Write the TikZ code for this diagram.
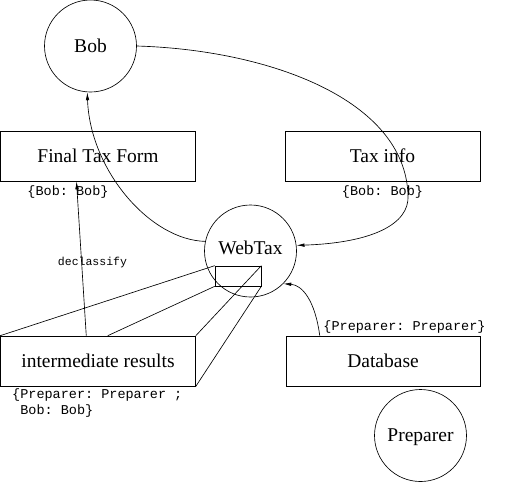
\documentclass[tikz,border=0pt]{standalone}
\usepackage{fontspec}
\setmainfont{Liberation Serif}
\setmonofont{Liberation Mono}
\usetikzlibrary{arrows.meta,calc}
\begin{document}
\begin{tikzpicture}[x=1pt,y=-1pt,
  lw/.style={line width=0.65pt},
  circ/.style={draw,lw,circle,minimum size=92pt,inner sep=0pt,font=\fontsize{19.5}{23}\selectfont},
  boxn/.style={draw,lw,rectangle,minimum width=195pt,minimum height=50pt,inner sep=0pt,font=\fontsize{19.5}{23}\selectfont},
  lab/.style={inner sep=0pt,font=\ttfamily\fontsize{13.5}{16}\selectfont},
  conn/.style={lw,-{Latex[length=8pt,width=3.5pt]}}]
\useasboundingbox (0,0) rectangle (505,483);
\node[circ] (bob) at (90.5,46) {Bob};
\node[circ] (webtax) at (250.5,251) {};
\node[inner sep=0pt,font=\fontsize{19.5}{23}\selectfont] (wtlabel) at (250.5,248) {WebTax};
\node[circ] (prep) at (420.5,435.5) {};
\node[inner sep=0pt,font=\fontsize{19.5}{23}\selectfont] (preplabel) at (420.5,437) {Preparer};
\node[boxn] (final) at (98,156) {Final Tax Form};
\node[boxn] (info) at (382.5,156) {Tax info};
\node[boxn] (ir) at (98,361) {intermediate results};
\node[boxn,minimum width=194pt] (db) at (383,361) {Database};
\node[draw,lw,minimum width=46pt,minimum height=20pt,inner sep=0pt] (sr) at (238,276) {};
\node[lab] (l1) at (68,192) {\{Bob: Bob\}};
\node[lab] (l2) at (382.5,192) {\{Bob: Bob\}};
\node[lab] (l3) at (404.5,327) {\{Preparer: Preparer\}};
\node[lab,align=left,anchor=north west] (l4) at (12,389) {\{Preparer: Preparer ;\\\phantom{\{}Bob: Bob\}};
\node[inner sep=0pt,font=\ttfamily\fontsize{11.5}{13}\selectfont] (dl) at (92.5,263) {declassify};
% prism lines
\draw[lw] (ir.north west) -- (sr.north west);
\draw[lw] ($(ir.north west)!0.55!(ir.north east)$) -- (sr.south west);
\draw[lw] (ir.north east) -- (sr.north east);
\draw[lw] (ir.south east) -- (sr.south east);
% connectors
\coordinate (irtop) at ($(ir.north west)!0.44!(ir.north east)$);
\coordinate (fbot) at ($(final.south west)!0.39!(final.south east)$);
\draw[conn] (irtop) -- (fbot);
\draw[conn] (webtax.168) .. controls (150,240) and (90,170) .. (bob.266);
\coordinate (mid) at (408,195);
\draw[lw] (bob.east) .. controls (270,50) and (405,100) .. (mid);
\draw[conn] (mid) .. controls (410,225) and (370,243) .. (webtax.7);
\coordinate (dbtop) at ($(db.north west)!0.175!(db.north east)$);
\draw[conn] (dbtop) .. controls (315,300) and (302,285) .. (webtax.-45);
\end{tikzpicture}
\end{document}
